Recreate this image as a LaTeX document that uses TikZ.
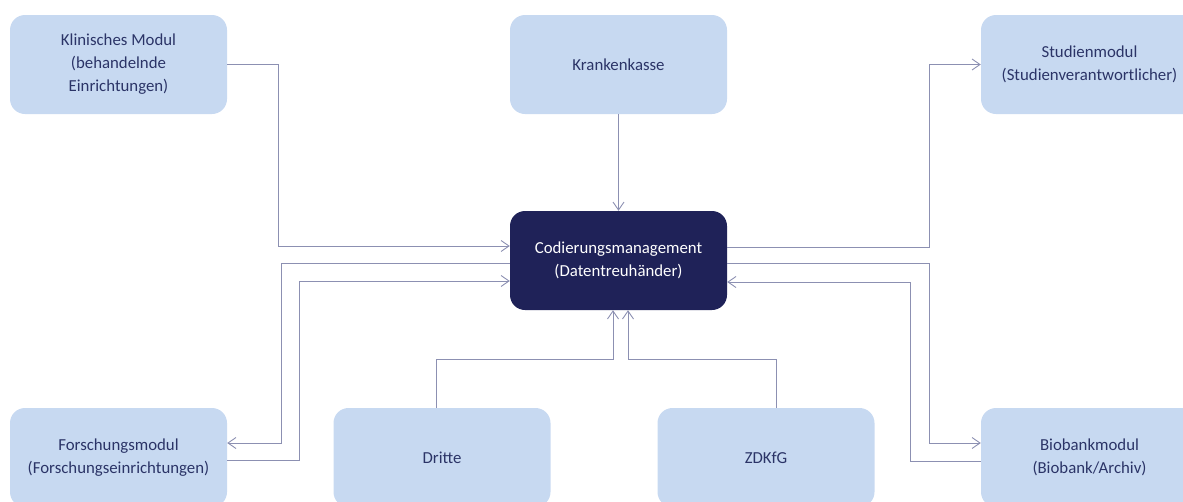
\documentclass[tikz,border=0pt]{standalone}
\usepackage{fontspec}
\setmainfont{Carlito}
\usetikzlibrary{arrows.meta}
\definecolor{boxfill}{HTML}{C7D9F1}
\definecolor{darkbox}{HTML}{1F2258}
\definecolor{txt}{HTML}{2B3467}
\definecolor{linec}{HTML}{8C90B2}
\begin{document}
\begin{tikzpicture}[x=1pt,y=-1pt,
  box/.style={draw=none, fill=boxfill, rounded corners=15pt, minimum width=217pt, minimum height=99pt, align=center, text=txt, font=\fontsize{16.8}{23}\selectfont, inner sep=0pt},
  dark/.style={box, fill=darkbox, text=white},
  conn/.style={draw=linec, line width=0.9pt},
  arr/.style={conn, -{Straight Barb[length=8pt,width=11pt]}}
]
\useasboundingbox (0,0) rectangle (1183,501);
\clip (0,0) rectangle (1183,501);
\node[box]  (klin)   at (118.5,64.5)  {Klinisches Modul\\(behandelnde\\Einrichtungen)};
\node[box]  (kk)     at (618.5,64.5)  {Krankenkasse};
\node[box]  (stud)   at (1089.5,64.5) {Studienmodul\\(Studienverantwortlicher)};
\node[dark] (cm)     at (618.5,260.5) {Codierungsmanagement\\(Datentreuhänder)};
\node[box]  (forsch) at (118.5,457.5) {Forschungsmodul\\(Forschungseinrichtungen)};
\node[box]  (dritte) at (442,457.5)   {Dritte};
\node[box]  (zdk)    at (766,457.5)   {ZDKfG};
\node[box]  (bio)    at (1089.5,457.5){Biobankmodul\\(Biobank/Archiv)};

% Klinisches -> CM
\draw[arr] (klin.east) -- (278,64.5) -- (278,246) -- (cm.west |- 0,246);
% CM -> Forschung
\draw[arr] (cm.west |- 0,263) -- (281,263) -- (281,443) -- (forsch.east |- 0,443);
% Forschung -> CM
\draw[arr] (forsch.east |- 0,460) -- (299,460) -- (299,281) -- (cm.west |- 0,281);
% Krankenkasse -> CM
\draw[arr] (kk.south) -- (cm.north);
% CM -> Studien
\draw[arr] (cm.east |- 0,247) -- (929,247) -- (929,64.5) -- (stud.west);
% CM -> Biobank
\draw[arr] (cm.east |- 0,263) -- (929,263) -- (929,443) -- (bio.west |- 0,443);
% Biobank -> CM
\draw[arr] (bio.west |- 0,461) -- (910,461) -- (910,282) -- (cm.east |- 0,282);
% Dritte -> CM
\draw[arr] (dritte.north -| 436,0) -- (436,359) -- (613,359) -- (613,0 |- cm.south);
% ZDKfG -> CM
\draw[arr] (zdk.north -| 776,0) -- (776,359) -- (628,359) -- (628,0 |- cm.south);
\end{tikzpicture}
\end{document}
